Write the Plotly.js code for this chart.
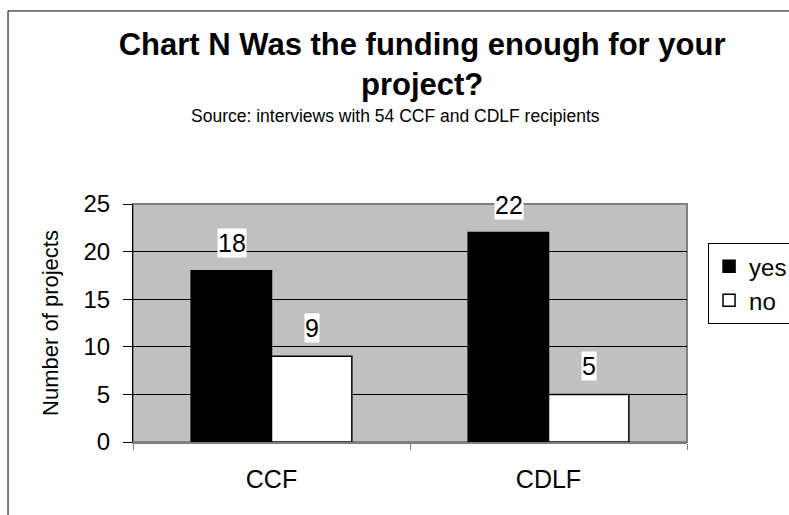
<!DOCTYPE html>
<html>
<head>
<meta charset="utf-8">
<script src="https://cdn.plot.ly/plotly-3.0.1.min.js"></script>
<style>html,body{margin:0;padding:0;background:#fff;}#chart{width:789px;height:515px;}</style>
</head>
<body>
<div id="chart"></div>
<script>
const categories = ["CCF", "CDLF"];
const seriesNames = ["yes", "no"];
const yesValues = [18, 22];
const noValues = [9, 5];
const yTicks = [0, 5, 10, 15, 20, 25];

const FONT = "Liberation Sans, Arial, sans-serif";

const traces = [
  {type: "bar", name: seriesNames[0], x: categories, y: yesValues,
   marker: {color: "#000000", line: {color: "#000000", width: 1.5}},
   legendgroup: "a", hoverinfo: "x+y+name"},
  {type: "bar", name: seriesNames[1], x: categories, y: noValues,
   marker: {color: "#ffffff", line: {color: "#000000", width: 1.5}},
   legendgroup: "b", hoverinfo: "x+y+name"}
];

const annotations = [];
[yesValues, noValues].forEach((vals, si) => {
  vals.forEach((v, i) => {
    annotations.push({
      x: categories[i], y: v, xref: "x", yref: "y",
      text: String(v), showarrow: false,
      xshift: si === 0 ? -40 : 40, yshift: 28, yanchor: "middle",
      bgcolor: "#ffffff", borderpad: 0,
      font: {family: FONT, size: 25, color: "#000"}
    });
  });
});
annotations.push({
  xref: "paper", yref: "paper", x: 0.473, y: 1.37, showarrow: false,
  text: "Source: interviews with 54 CCF and CDLF recipients",
  font: {family: FONT, size: 17.5, color: "#000"}, yanchor: "middle"
});

const layout = {
  width: 789, height: 515,
  margin: {l: 133, r: 102, t: 204, b: 73, autoexpand: false},
  paper_bgcolor: "#ffffff",
  plot_bgcolor: "#c0c0c0",
  font: {family: FONT, color: "#000"},
  title: {
    text: "<b>Chart N Was the funding enough for your<br>project?</b>",
    font: {family: FONT, size: 31, color: "#000"},
    x: 0.535, xref: "container", xanchor: "center",
    y: 1 - 55/515, yref: "container", yanchor: "top"
  },
  barmode: "group",
  bargap: 0.42,
  bargroupgap: 0,
  xaxis: {
    type: "category",
    tickson: "boundaries",
    ticks: "outside", ticklen: 6, tickcolor: "#808080",
    showline: true, linecolor: "#808080", linewidth: 2,
    tickfont: {family: FONT, size: 25, color: "#000"},
    ticklabelstandoff: 14,
    showgrid: false, zeroline: false, automargin: false
  },
  yaxis: {
    range: [0, 25],
    tickvals: yTicks,
    ticktext: yTicks.map(String),
    ticks: "outside", ticklen: 9, tickcolor: "#000",
    showline: true, linecolor: "#000", linewidth: 1,
    showgrid: true, gridcolor: "#000", gridwidth: 1,
    zeroline: false, automargin: false,
    tickfont: {family: FONT, size: 24, color: "#000"},
    ticklabelstandoff: 8,
    title: {text: "Number of projects", font: {family: FONT, size: 22, color: "#000"}, standoff: 18}
  },
  legend: {
    x: 1.038, y: 0.836, xanchor: "left", yanchor: "top",
    bordercolor: "#000", borderwidth: 1, bgcolor: "#fff",
    font: {family: FONT, size: 24, color: "#000"},
    tracegroupgap: 8, traceorder: "normal"
  },
  shapes: [
    {type: "rect", xref: "paper", yref: "paper", x0: 0, x1: 1, y0: 0, y1: 1,
     line: {color: "#808080", width: 2}, fillcolor: "rgba(0,0,0,0)", layer: "below"},
    {type: "rect", xref: "paper", yref: "paper", x0: -0.2256, x1: 1.25, y0: -0.4, y1: 1.811,
     line: {color: "#000", width: 1}, fillcolor: "rgba(0,0,0,0)", layer: "above"}
  ],
  annotations: annotations,
  showlegend: true
};

Plotly.newPlot("chart", traces, layout, {displayModeBar: false, staticPlot: true});
</script>
</body>
</html>
